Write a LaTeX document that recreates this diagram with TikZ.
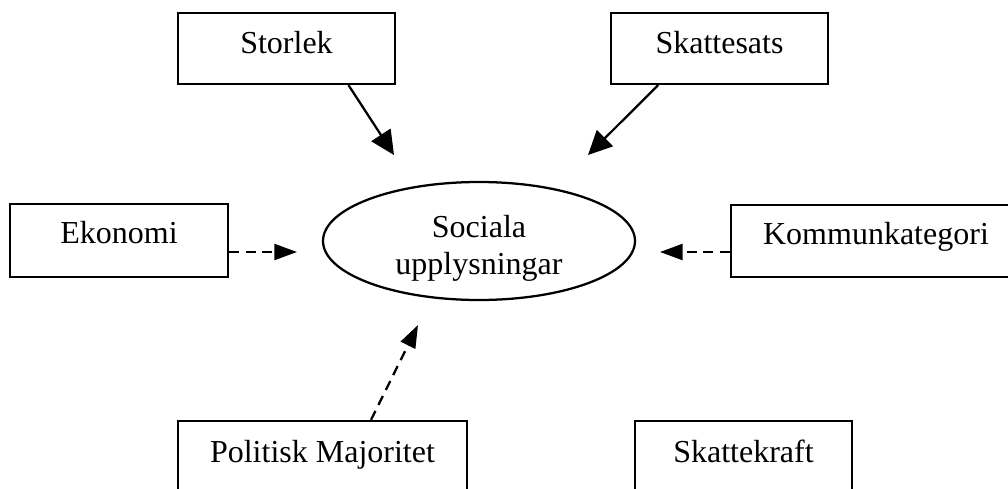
\documentclass[tikz,border=0pt]{standalone}
\usepackage{fontspec}
\setmainfont{Liberation Serif}
\usetikzlibrary{arrows.meta,calc,shapes.geometric}
\begin{document}
\begin{tikzpicture}[x=0.75pt,y=-0.75pt,
  box/.style={draw=black,line width=1.7pt,rectangle,inner sep=0pt},
  txt/.style={font=\fontsize{24pt}{26pt}\selectfont,inner sep=0pt,anchor=base},
  oval/.style={draw=black,line width=1.7pt,ellipse,inner sep=0pt,minimum width=234pt,minimum height=88.5pt},
  solidarr/.style={line width=1.7pt,-{Triangle[length=18pt,width=17pt]}},
  dasharr/.style={line width=1.7pt,dash pattern=on 7.5pt off 5pt,-{Triangle[length=17pt,width=12pt]}}
]
\clip (0,0) rectangle (1008,489);
\fill[white] (0,0) rectangle (1008,489);

% boxes
\node[box,minimum width=162.75pt,minimum height=53.25pt] (storlek) at (286.5,48.5) {};
\node[txt] (tstorlek) at (286.5,53) {Storlek};
\node[box,minimum width=162.75pt,minimum height=53.25pt] (skattesats) at (719.5,48.5) {};
\node[txt] (tskattesats) at (719.5,53) {Skattesats};
\node[box,minimum width=163.5pt,minimum height=54.75pt] (ekonomi) at (119,240.5) {};
\node[txt] (tekonomi) at (119,243.5) {Ekonomi};
\node[box,minimum width=217.5pt,minimum height=54pt] (kommun) at (876,241) {};
\node[txt] (tkommun) at (876,244) {Kommunkategori};
\node[box,minimum width=216.75pt,minimum height=61.5pt] (politisk) at (322.5,462) {};
\node[txt] (tpolitisk) at (322.5,462) {Politisk Majoritet};
\node[box,minimum width=162.75pt,minimum height=61.5pt] (skattekraft) at (743.5,462) {};
\node[txt] (tskattekraft) at (743.5,462) {Skattekraft};

% central ellipse
\node[oval] (soc) at (479,241) {};
\node[txt] (tsoc1) at (479,237) {Sociala};
\node[txt] (tsoc2) at (479,274) {upplysningar};

% free ends
\coordinate (e1) at (394,155);
\coordinate (e2) at (588,155);
\coordinate (e3) at (297,252);
\coordinate (e4) at (660,252);
\coordinate (e5) at (418,325);

\draw[solidarr] ([xshift=46.5pt]storlek.south) -- (e1);
\draw[solidarr] ([xshift=-46pt]skattesats.south) -- (e2);
\draw[dasharr] (ekonomi.east |- e3) -- (e3);
\draw[dasharr] (kommun.west |- e4) -- (e4);
\draw[dasharr] ([xshift=36.4pt]politisk.north) -- (e5);
\end{tikzpicture}
\end{document}
